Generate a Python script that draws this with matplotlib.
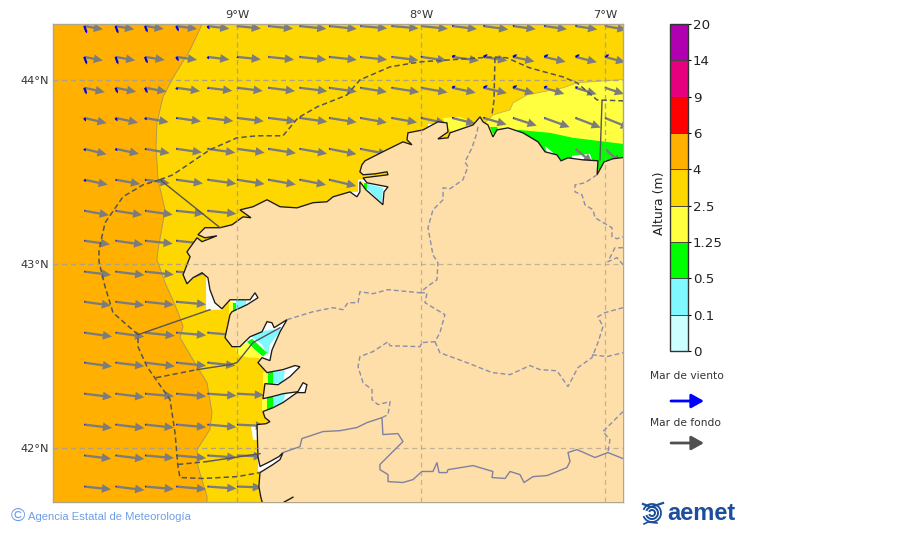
import numpy as np
import matplotlib
matplotlib.use("Agg")
import matplotlib.pyplot as plt
from matplotlib.colors import ListedColormap, BoundaryNorm
from matplotlib.colorbar import ColorbarBase
from matplotlib.patches import FancyArrowPatch, Polygon, Arc

# ---------- colour scale ----------
HEIGHT_BOUNDS = [0, 0.1, 0.5, 1.25, 2.5, 4, 6, 9, 14, 20]
HEIGHT_LABELS = ["0", "0.1", "0.5", "1.25", "2.5", "4", "6", "9", "14", "20"]
HEIGHT_COLORS = ["#CCFFFF", "#80F8FF", "#00FF00", "#FFFF40", "#FFD700",
                 "#FFB000", "#FF0000", "#E6007E", "#B000B0"]
LAND = "#FEDFAA"

# ---------- map graticule ----------
LON_TICKS = [-9, -8, -7]
LON_LABELS = ["9°W", "8°W", "7°W"]
LAT_TICKS = [42, 43, 44]
LAT_LABELS = ["42°N", "43°N", "44°N"]

# ---------- arrow grid ----------
GRID_LON = [-9.83, -9.66, -9.50, -9.33, -9.16, -9.00, -8.83, -8.66, -8.50,
            -8.33, -8.16, -8.00, -7.83, -7.66, -7.50, -7.33, -7.16, -7.00]
GRID_LAT = [44.293, 44.125, 43.957, 43.793, 43.625, 43.457, 43.288, 43.125,
            42.957, 42.793, 42.625, 42.462, 42.293, 42.125, 41.957, 41.788]
n = np.nan
SWELL_LEN = [
    [19, 19, 19, 21, 22, 24, 25, 27, 28, 27, 27, 27, 25, 25, 23, 23, 22, 22],
    [19, 20, 20, 21, 22, 24, 26, 27, 28, 27, 27, 26, 27, 24, 22, 22, 22, 21],
    [21, 21, 22, 24, 25, 26, 27, 28, 28, 27, 28, 27, 24, 24, 22, 21, 22, 20],
    [23, 23, 24, 25, 26, 27, 28, 28, 28, 27, 26, 25, 24, 24, 25, 27, 27, 27],
    [23, 24, 25, 26, 28, 28, 28, 28, 28, 28, n, n, n, n, n, n, 22, 22],
    [24, 25, 25, 27, 29, 28, 28, 27, 28],
    [25, 27, 28, 28, 29],
    [26, 28, 28, 28],
    [27, 29, 29, 28],
    [27, 29, 29, 30],
    [28, 29, 30, 30, 28],
    [28, 29, 30, 30, 28],
    [28, 29, 29, 30, 29, 27],
    [28, 29, 29, 30, 29, 28],
    [27, 29, 29, 30, 29, 26],
    [27, 29, 29, 30, 29, 25],
]
SWELL_DIR = [
    [10, 10, 9, 8, 7, 6, 6, 6, 6, 5, 5, 6, 7, 8, 8, 8, 9, 10],
    [11, 10, 9, 8, 7, 6, 6, 6, 6, 6, 7, 8, 8, 9, 12, 13, 14, 15],
    [12, 11, 10, 8, 7, 7, 7, 7, 8, 9, 9, 10, 12, 13, 15, 17, 17, 18],
    [13, 12, 10, 8, 7, 7, 7, 8, 9, 10, 10, 12, 14, 16, 18, 20, 21, 22],
    [14, 12, 10, 8, 8, 8, 9, 10, 11, 11, n, n, n, n, n, n, 40, 42],
    [12, 10, 8, 8, 8, 9, 10, 11, 13],
    [10, 9, 8, 6, 6],
    [8, 8, 6, 6],
    [7, 7, 6, 5],
    [8, 7, 6, 5],
    [8, 8, 6, 5, 5],
    [8, 7, 7, 6, 6],
    [7, 7, 5, 5, 4, 3],
    [7, 7, 6, 5, 5, 3],
    [7, 7, 5, 5, 4, 2],
    [6, 7, 5, 5, 4, 2],
]
WIND_LEN = [
    [8, 8, 7, 6, 4, 2, 1.5, 1.5, 1.5, 1.5, 1.5, 1.5, 2, 2, 2, 2, 2, 2],
    [8, 8, 7, 5, 3, 2, 1.5, 1.5, 1.5, 1.5, 1.5, 2, 4, 5, 5, 5, 5, 5],
    [7, 6, 6, 3, 2, 2, 1.5, 1.5, 1.5, 1.5, 1.5, 2, 4, 5, 5, 4, 3, 2],
    [4, 4, 3, 2, 1.5, 1.5, 1.5, 1.5, 1.5, 1.5, 1.5, 2, 2, 2, 1.5, 1.5, 1.5, 1.5],
    [3, 3, 2, 1.5, 1.5, 1.5, 1.5, 1.5, 1.5, 1.5],
    [3, 2, 2, 1.5, 1.5, 1.5, 1.5, 1.5, 1.5],
    [1.5, 1.5, 1.5, 1.5, 1.5],
    [1.5, 1.5, 1.5, 1.5],
    [1.5, 1.5, 1.5, 1.5],
    [1.5, 1.5, 1.5, 1.5],
    [1.5, 1.5, 1.5, 1.5, 1.5],
    [1.5, 1.5, 1.5, 1.5, 1.5],
    [1.5, 1.5, 1.5, 1.5, 1.5, 1.5],
    [1.5, 1.5, 1.5, 1.5, 1.5, 1.5],
    [1.5, 1.5, 1.5, 1.5, 1.5, 1.5],
    [1.5, 1.5, 1.5, 1.5, 1.5, 1.5],
]
WIND_DIR = [
    [70, 70, 68, 65, 60, 40, 10, 0, 0, -10, -10, -15, -20, -25, -25, -25, -25, -25],
    [70, 70, 68, 60, 55, 40, 10, 0, 0, -10, -10, -25, -30, -30, -30, -30, -30, -30],
    [70, 68, 65, 55, 40, 20, 10, 0, 0, -10, -10, -25, -30, -30, -30, -30, -25, -20],
    [65, 60, 50, 30, 10, 0, 0, 0, 0, 0, 0, -15, -20, -20, 0, 0, 0, 0],
    [60, 50, 30, 0, 0, 0, 0, 0, 0, 0],
    [50, 30, 20, 0, 0, 0, 0, 0, 0],
]

# ---------- digitised geography (lon, lat) ----------
COAST = [(-8.859, 41.69), (-8.870, 41.728), (-8.881, 41.788), (-8.875, 41.864), (-8.804, 41.908),
         (-8.766, 41.935), (-8.750, 41.973), (-8.772, 41.951), (-8.821, 41.924), (-8.875, 41.897),
         (-8.886, 41.951), (-8.891, 42.125), (-8.842, 42.130), (-8.821, 42.141), (-8.848, 42.163),
         (-8.859, 42.196), (-8.804, 42.217), (-8.750, 42.245), (-8.674, 42.299), (-8.630, 42.299),
         (-8.620, 42.342), (-8.641, 42.353), (-8.669, 42.304), (-8.750, 42.293), (-8.810, 42.277),
         (-8.859, 42.266), (-8.848, 42.348), (-8.777, 42.342), (-8.712, 42.386), (-8.658, 42.440),
         (-8.685, 42.446), (-8.750, 42.424), (-8.837, 42.408), (-8.886, 42.462), (-8.864, 42.489),
         (-8.821, 42.473), (-8.810, 42.530), (-8.766, 42.630), (-8.728, 42.696),
         (-8.798, 42.652), (-8.810, 42.679), (-8.837, 42.685), (-8.864, 42.630), (-8.929, 42.603),
         (-8.984, 42.549), (-9.027, 42.549),
         (-9.065, 42.598), (-9.038, 42.723), (-9.027, 42.739), (-8.946, 42.777), (-8.886, 42.815),
         (-8.902, 42.842), (-8.929, 42.804), (-9.038, 42.804), (-9.082, 42.755), (-9.120, 42.788),
         (-9.147, 42.859), (-9.158, 42.924), (-9.190, 42.951), (-9.239, 42.924), (-9.272, 42.891),
         (-9.293, 42.940), (-9.255, 43.038), (-9.272, 43.065), (-9.217, 43.141), (-9.190, 43.120),
         (-9.109, 43.152), (-9.174, 43.141), (-9.212, 43.158), (-9.174, 43.196), (-9.092, 43.196),
         (-9.027, 43.212), (-8.967, 43.255), (-8.924, 43.250), (-8.984, 43.293), (-8.913, 43.310),
         (-8.837, 43.348), (-8.766, 43.310), (-8.674, 43.304), (-8.587, 43.332), (-8.511, 43.337),
         (-8.478, 43.364), (-8.386, 43.391), (-8.348, 43.364), (-8.332, 43.391), (-8.332, 43.446),
         (-8.299, 43.402), (-8.250, 43.359), (-8.207, 43.321), (-8.201, 43.391), (-8.179, 43.418),
         (-8.293, 43.440), (-8.315, 43.467), (-8.179, 43.484), (-8.185, 43.500), (-8.250, 43.489),
         (-8.315, 43.484), (-8.332, 43.500), (-8.321, 43.538), (-8.304, 43.560), (-8.207, 43.609),
         (-8.098, 43.663), (-8.049, 43.647), (-8.076, 43.674), (-8.071, 43.712), (-7.989, 43.728),
         (-7.908, 43.772), (-7.859, 43.766), (-7.853, 43.717), (-7.908, 43.679), (-7.853, 43.685),
         (-7.842, 43.712), (-7.717, 43.755), (-7.679, 43.799), (-7.663, 43.772), (-7.636, 43.755),
         (-7.609, 43.690), (-7.587, 43.728), (-7.527, 43.739), (-7.446, 43.712), (-7.364, 43.663),
         (-7.326, 43.609), (-7.261, 43.592), (-7.239, 43.560), (-7.201, 43.576), (-7.120, 43.565),
         (-7.038, 43.560), (-7.043, 43.484), (-7.005, 43.554), (-6.957, 43.571), (-6.864, 43.582),
         (-6.8, 41.6), (-8.859, 41.6)]
GOLD_EDGE = [(-9.179, 44.326), (-9.255, 44.163), (-9.348, 44.011), (-9.402, 43.908), (-9.435, 43.766),
             (-9.440, 43.636), (-9.429, 43.457), (-9.391, 43.293), (-9.429, 43.076), (-9.435, 43.022),
             (-9.391, 42.897), (-9.326, 42.750), (-9.293, 42.658), (-9.310, 42.598), (-9.239, 42.478),
             (-9.163, 42.353), (-9.136, 42.190), (-9.147, 42.098), (-9.217, 41.989), (-9.212, 41.897),
             (-9.163, 41.734), (-9.163, 41.690), (-6.8, 41.690), (-6.8, 44.326)]
YELLOW_NE = [(-6.864, 44.005), (-7.152, 43.984), (-7.228, 43.957), (-7.424, 43.918), (-7.500, 43.875),
             (-7.516, 43.837), (-7.609, 43.810), (-7.663, 43.755), (-7.625, 43.701), (-6.864, 43.511)]
YELLOW_N = [(-7.880, 43.793), (-7.788, 43.799), (-7.707, 43.761), (-7.832, 43.717), (-7.870, 43.755)]
GREEN_NE = [(-7.473, 43.728), (-7.299, 43.712), (-7.174, 43.685), (-6.864, 43.647), (-6.864, 43.511), (-7.462, 43.511)]
GREEN_N = [(-7.625, 43.744), (-7.587, 43.744), (-7.571, 43.712), (-7.609, 43.707)]
WHITE_PATCHES = [
    [(-7.326, 43.641), (-7.288, 43.609), (-7.266, 43.582), (-7.310, 43.582)],
    [(-7.179, 43.587), (-7.082, 43.598), (-7.071, 43.565), (-7.179, 43.560)],
    [(-9.168, 42.940), (-9.109, 42.940), (-9.082, 42.750), (-9.168, 42.750)],
    [(-8.924, 42.125), (-8.875, 42.125), (-8.875, 42.043), (-8.913, 42.043)],
    [(-7.962, 43.761), (-7.891, 43.761), (-7.891, 43.717), (-7.962, 43.717)],
    [(-8.886, 41.962), (-8.739, 41.989), (-8.739, 41.880), (-8.886, 41.870)],
    [(-8.375, 43.391), (-8.332, 43.391), (-8.321, 43.353), (-8.375, 43.353)],
    [(-9.038, 42.815), (-8.864, 42.859), (-8.864, 42.717), (-9.027, 42.717)],
    [(-9.027, 42.560), (-8.929, 42.630), (-8.848, 42.707), (-8.712, 42.717), (-8.766, 42.451), (-8.864, 42.478)],
    [(-8.848, 42.424), (-8.658, 42.467), (-8.658, 42.342), (-8.848, 42.332)],
    [(-8.859, 42.277), (-8.658, 42.371), (-8.603, 42.371), (-8.603, 42.293), (-8.848, 42.185)],
    [(-8.342, 43.457), (-8.158, 43.457), (-8.158, 43.304), (-8.342, 43.375)],
]
BLUE_RIAS = [
    [(-9.005, 42.804), (-8.951, 42.804), (-8.951, 42.750), (-9.005, 42.750)],
    [(-8.929, 42.609), (-8.848, 42.636), (-8.755, 42.647), (-8.821, 42.560), (-8.832, 42.500), (-8.864, 42.560)],
    [(-8.804, 42.413), (-8.739, 42.419), (-8.750, 42.353), (-8.804, 42.348)],
    [(-8.804, 42.293), (-8.734, 42.304), (-8.750, 42.239), (-8.804, 42.207)],
    [(-8.293, 43.435), (-8.207, 43.413), (-8.212, 43.332), (-8.288, 43.402)],
]
GREEN_RIAS = [
    [(-9.022, 42.788), (-9.005, 42.788), (-9.005, 42.739), (-9.022, 42.739)],
    [(-8.946, 42.576), (-8.918, 42.592), (-8.837, 42.516), (-8.859, 42.495), (-8.902, 42.532)],
    [(-8.831, 42.413), (-8.804, 42.413), (-8.804, 42.348), (-8.831, 42.348)],
    [(-8.837, 42.272), (-8.804, 42.277), (-8.804, 42.207), (-8.837, 42.185)],
    [(-8.310, 43.440), (-8.293, 43.440), (-8.293, 43.407), (-8.310, 43.407)],
]
YELLOW_RIAS = [
    [(-9.043, 42.793), (-9.022, 42.793), (-9.022, 42.717), (-9.043, 42.717)],
    [(-9.011, 42.533), (-8.946, 42.571), (-8.859, 42.489), (-8.929, 42.489), (-8.984, 42.500)],
    [(-8.859, 42.408), (-8.831, 42.413), (-8.831, 42.348), (-8.859, 42.342)],
    [(-8.864, 42.261), (-8.837, 42.266), (-8.837, 42.185), (-8.864, 42.196)],
    [(-8.332, 43.451), (-8.310, 43.451), (-8.310, 43.402), (-8.332, 43.402)],
]
ZONES_DASHED = [
    [(-9.418, 43.457), (-9.348, 43.484), (-9.147, 43.620), (-9.0, 43.685), (-8.891, 43.696), (-8.750, 43.696),
     (-8.669, 43.793), (-8.565, 43.853), (-8.402, 43.918), (-8.332, 44.0), (-8.168, 44.071), (-8.005, 44.098),
     (-7.842, 44.109), (-7.609, 44.125), (-7.533, 44.120), (-7.408, 44.065), (-7.228, 44.016), (-7.152, 43.984),
     (-7.043, 43.891), (-6.902, 43.886)],
    [(-7.598, 44.120), (-7.603, 43.891), (-7.614, 43.810)],
    [(-9.418, 43.457), (-9.511, 43.429), (-9.620, 43.364), (-9.717, 43.223), (-9.750, 43.076), (-9.750, 43.011),
     (-9.717, 42.875), (-9.674, 42.734), (-9.538, 42.614), (-9.538, 42.549), (-9.489, 42.440), (-9.364, 42.261),
     (-9.337, 42.082), (-9.321, 41.897), (-9.310, 41.837), (-9.185, 41.832), (-9.0, 41.842), (-8.875, 41.864)],
    [(-9.44, 42.380), (-9.217, 42.424)],
    [(-9.321, 41.908), (-9.163, 41.924)],
]
ZONES_SOLID = [
    [(-7.016, 43.886), (-7.027, 43.565)],
    [(-9.418, 43.457), (-9.092, 43.196)],
    [(-9.538, 42.614), (-9.147, 42.750)],
    [(-9.217, 42.424), (-9.038, 42.451), (-9.0, 42.462), (-8.913, 42.571), (-8.766, 42.652)],
    [(-9.163, 41.924), (-8.875, 41.967)],
]
PROVINCES = [
    [(-8.728, 42.696), (-8.587, 42.739), (-8.478, 42.761), (-8.424, 42.750), (-8.397, 42.788), (-8.342, 42.788),
     (-8.332, 42.848), (-8.261, 42.837), (-8.179, 42.859), (-8.005, 42.842), (-7.967, 42.875), (-7.913, 42.913),
     (-7.908, 43.005), (-7.935, 43.049), (-7.962, 43.196), (-7.935, 43.293), (-7.880, 43.348), (-7.880, 43.413),
     (-7.842, 43.408), (-7.772, 43.457), (-7.745, 43.527), (-7.761, 43.554), (-7.723, 43.630), (-7.696, 43.712),
     (-7.690, 43.745)],
    [(-8.005, 42.842), (-7.967, 42.842), (-7.978, 42.788), (-7.870, 42.723), (-7.897, 42.625), (-7.924, 42.576),
     (-7.995, 42.571), (-8.005, 42.549), (-8.168, 42.554), (-8.179, 42.576), (-8.261, 42.522), (-8.332, 42.495),
     (-8.342, 42.440), (-8.315, 42.353), (-8.266, 42.315), (-8.266, 42.261), (-8.234, 42.234), (-8.168, 42.250),
     (-8.179, 42.179), (-8.212, 42.163)],
    [(-7.924, 42.576), (-7.897, 42.516), (-7.750, 42.462), (-7.614, 42.408), (-7.516, 42.397), (-7.408, 42.446),
     (-7.353, 42.424), (-7.261, 42.418), (-7.201, 42.332), (-7.147, 42.435), (-7.071, 42.489), (-7.038, 42.571),
     (-7.011, 42.658), (-7.038, 42.712), (-7.0, 42.734), (-6.902, 42.761)],
    [(-7.071, 42.505), (-6.989, 42.495), (-6.902, 42.516)],
    [(-7.043, 43.484), (-7.109, 43.440), (-7.163, 43.429), (-7.163, 43.391), (-7.125, 43.375), (-7.109, 43.321),
     (-7.065, 43.293), (-7.054, 43.250), (-6.962, 43.196), (-6.962, 43.147), (-6.935, 43.136), (-6.902, 43.147)],
    [(-6.902, 43.087), (-6.946, 43.087), (-6.984, 43.011), (-6.935, 43.033), (-6.902, 42.995)],
    [(-6.902, 42.196), (-7.011, 42.087), (-6.973, 42.043), (-6.984, 41.973)],
]
BORDER = [(-8.750, 41.973), (-8.658, 42.005), (-8.647, 42.049), (-8.533, 42.087), (-8.440, 42.092), (-8.348, 42.109),
          (-8.293, 42.136), (-8.212, 42.163), (-8.207, 42.071), (-8.125, 42.076), (-8.098, 42.033), (-8.223, 41.908),
          (-8.223, 41.880), (-8.179, 41.853), (-8.179, 41.815), (-8.098, 41.810), (-8.043, 41.826), (-7.995, 41.870),
          (-7.935, 41.870), (-7.913, 41.918), (-7.902, 41.864), (-7.859, 41.864), (-7.853, 41.880), (-7.717, 41.902),
          (-7.609, 41.870), (-7.614, 41.837), (-7.543, 41.832), (-7.516, 41.870), (-7.462, 41.853), (-7.440, 41.810),
          (-7.391, 41.842), (-7.315, 41.848), (-7.207, 41.891), (-7.190, 41.924), (-7.201, 41.973), (-7.152, 41.989),
          (-7.054, 41.946), (-6.984, 41.973), (-6.902, 41.940)]
SOUTH_RIVER = [(-8.750, 41.70), (-8.696, 41.73)]

W, H = 900, 533
fig = plt.figure(figsize=(W / 100, H / 100), dpi=100, facecolor="white")
ax = fig.add_axes([53 / W, (H - 502) / H, 570 / W, 478 / H])
ax.set_xlim(-10.0, -6.902)
ax.set_ylim(41.704, 44.304)
ax.set_facecolor(HEIGHT_COLORS[5])


def fill(points, color, z, edge="none", lw=0.0):
    ax.add_patch(Polygon(points, closed=True, facecolor=color, edgecolor=edge, linewidth=lw, zorder=z))


def path(points, **kw):
    xs, ys = zip(*points)
    ax.plot(xs, ys, **kw)


fill(GOLD_EDGE, HEIGHT_COLORS[4], 1, "#B09A50", 0.7)
fill(YELLOW_NE, HEIGHT_COLORS[3], 1.1, "#C8B040", 0.6)
fill(YELLOW_N, HEIGHT_COLORS[3], 1.1)
fill(GREEN_NE, HEIGHT_COLORS[2], 1.2)
fill(GREEN_N, HEIGHT_COLORS[2], 1.2)
for p in WHITE_PATCHES:
    fill(p, "white", 1.3)
for p in BLUE_RIAS:
    fill(p, HEIGHT_COLORS[1], 1.4)
for p in YELLOW_RIAS:
    fill(p, HEIGHT_COLORS[3], 1.5)
for p in GREEN_RIAS:
    fill(p, HEIGHT_COLORS[2], 1.6)

GRID_STYLE = dict(color="#A8A090", lw=0.9, ls=(0, (4, 3)), alpha=0.7)
for v in LON_TICKS:
    ax.axvline(v, zorder=1.8, **GRID_STYLE)
for v in LAT_TICKS:
    ax.axhline(v, zorder=1.8, **GRID_STYLE)


def table(rows):
    out = np.full((len(GRID_LAT), len(GRID_LON)), np.nan)
    for i, r in enumerate(rows):
        out[i, :len(r)] = r
    return out


X, Y = np.meshgrid(GRID_LON, GRID_LAT)
sw_len, sw_dir = table(SWELL_LEN), np.radians(table(SWELL_DIR))
wi_len = table(WIND_LEN)
wi_dir = np.radians(np.nan_to_num(table(WIND_DIR)))
ax.quiver(X, Y, sw_len * np.cos(sw_dir), -sw_len * np.sin(sw_dir), angles="uv", scale_units="dots", scale=1,
          units="dots", width=2.3, headwidth=3.8, headlength=4.0, headaxislength=4.0, color="#7C7C7C",
          pivot="tail", zorder=2)
ax.quiver(X, Y, wi_len * np.cos(wi_dir), -wi_len * np.sin(wi_dir), angles="uv", scale_units="dots", scale=1,
          units="dots", width=2.2, headwidth=1.2, headlength=1.2, headaxislength=1.2, minlength=0.3, color="#0000E6",
          pivot="tail", zorder=2.1)

# land and lines
fill(COAST, LAND, 3, "#1A1A1A", 0.95)
for v in LON_TICKS:
    ax.plot([v, v], [41.704, 44.304], zorder=3.1, **GRID_STYLE)
for v in LAT_TICKS:
    ax.plot([-10, -6.902], [v, v], zorder=3.1, **GRID_STYLE)
path(SOUTH_RIVER, color="#1A1A1A", lw=1.0, zorder=3.2)
for p in PROVINCES:
    path(p, color="#8E8EA8", lw=1.0, ls=(0, (3.5, 2)), zorder=3.3)
path(BORDER, color="#8080A0", lw=1.0, zorder=3.3)
for p in ZONES_DASHED:
    path(p, color="#555555", lw=1.1, ls=(0, (3.5, 2)), zorder=3.5)
for p in ZONES_SOLID:
    path(p, color="#555555", lw=1.0, zorder=3.5)

ax.set_xticks(LON_TICKS, LON_LABELS)
ax.set_yticks(LAT_TICKS, LAT_LABELS)
ax.tick_params(length=0, labelsize=8.2, labelcolor="#333333", top=True, labeltop=True, bottom=False, labelbottom=False, pad=3)
for s in ax.spines.values():
    s.set_color("#B0A68C")
    s.set_linewidth(1.0)

# colour bar
cax = fig.add_axes([669.5 / W, (H - 351) / H, 18.5 / W, 327 / H])
cb = ColorbarBase(cax, cmap=ListedColormap(HEIGHT_COLORS), norm=BoundaryNorm(HEIGHT_BOUNDS, len(HEIGHT_COLORS)),
                  spacing="uniform", ticks=HEIGHT_BOUNDS, drawedges=True, orientation="vertical")
cb.set_ticklabels(HEIGHT_LABELS)
cb.ax.tick_params(labelsize=9.6, length=2.5, width=0.8, pad=1, labelcolor="#222222")
cb.outline.set_edgecolor("#333333")
cb.outline.set_linewidth(1.0)
cb.dividers.set_color("#444444")
cb.dividers.set_linewidth(0.7)
fig.text(659 / W, 1 - 203 / H, "Altura (m)", rotation=90, ha="center", va="center", fontsize=9, color="#222222")

# legend arrows
fig.text(650 / W, 1 - 376 / H, "Mar de viento", ha="left", va="center", fontsize=7.7, color="#333333")
fig.text(650 / W, 1 - 423 / H, "Mar de fondo", ha="left", va="center", fontsize=7.7, color="#333333")
for y0, col in ((401, "#0000FF"), (443, "#505050")):
    fig.add_artist(FancyArrowPatch((671 / W, 1 - y0 / H), (704 / W, 1 - y0 / H), transform=fig.transFigure,
                                   arrowstyle="-|>,head_length=0.75,head_width=0.42", mutation_scale=10,
                                   color=col, lw=2.0, shrinkA=0, shrinkB=0))

# credits
fig.text(28 / W, 1 - 516.5 / H, "Agencia Estatal de Meteorología", ha="left", va="center",
         family="Liberation Sans", fontsize=8.1, color="#6F9FE8")
fig.text(17.5 / W, 1 - 516 / H, "©", ha="center", va="center", family="Liberation Sans", fontsize=14, color="#6F9FE8")
fig.text(667 / W, 1 - 513 / H, "aemet", ha="left", va="center", family="Liberation Sans", fontweight="bold",
         fontsize=17, color="#1C4E9C")
lax = fig.add_axes([641 / W, (H - 525) / H, 25 / W, 24 / H])
lax.set_xlim(0, 25)
lax.set_ylim(0, 24)
lax.axis("off")
for r, lw_ in ((3, 1.4), (6, 1.4), (9, 1.3)):
    lax.add_patch(Arc((11, 12), 2 * r, 2 * r, theta1=200, theta2=520, color="#1C4E9C", lw=lw_))
lax.plot([2, 10, 22], [21, 18, 22], color="#1C4E9C", lw=1.6)
lax.plot([3, 7, 16], [1, 3, 2], color="#1C4E9C", lw=1.2)

fig.savefig("out.png", dpi=100)
